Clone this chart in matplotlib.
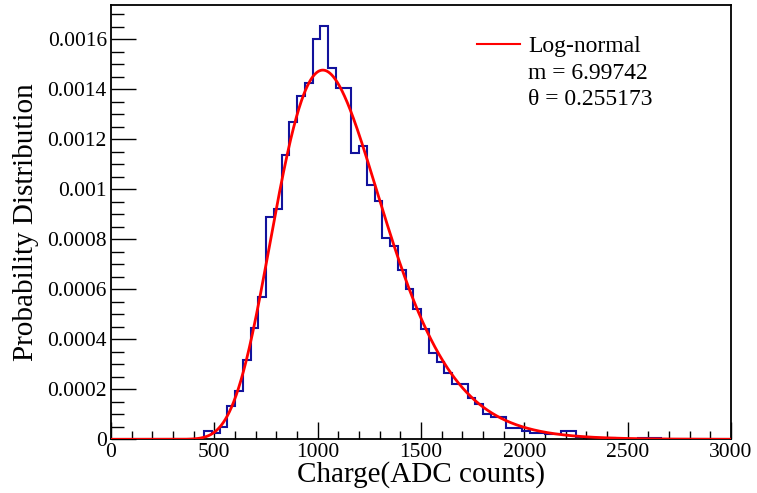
import numpy as np
import matplotlib
matplotlib.use("Agg")
import matplotlib.pyplot as plt
from matplotlib.lines import Line2D
from matplotlib.ticker import MultipleLocator

# histogram: 80 bins of 37.5 ADC counts between 0 and 3000
bin_edges = np.linspace(0, 3000, 81)
prob_density = [
    0, 0, 0, 0, 0, 0, 0, 0, 0, 0, 0, 0,
    0.000033, 0.000025, 0.000050, 0.000135, 0.000195, 0.000317, 0.000444, 0.000568,
    0.000888, 0.000920, 0.001137, 0.001268, 0.001374, 0.001424, 0.001600, 0.001654,
    0.001484, 0.001404, 0.001404, 0.001144, 0.001173, 0.001017, 0.000954, 0.000806,
    0.000772, 0.000677, 0.000601, 0.000520, 0.000440, 0.000344, 0.000310, 0.000264,
    0.000221, 0.000221, 0.000164, 0.000141, 0.000101, 0.000090, 0.000090, 0.000044,
    0.000044, 0.000035, 0.000027, 0.000027, 0.000021, 0.000021, 0.000033, 0.000033,
    0.000008, 0.000004, 0.000004, 0, 0.000004, 0, 0, 0,
    0.000005, 0.000005, 0.000005, 0, 0, 0, 0, 0, 0, 0, 0, 0,
]

# log-normal fit parameters (from the legend)
fit_m = 6.99742
fit_theta = 0.255173
fit_label = "Log-normal"

plt.rcParams["font.family"] = ["Liberation Serif", "DejaVu Serif"]

fig = plt.figure(figsize=(7.57, 4.93), dpi=100)
ax = fig.add_axes([111 / 757, 1 - 439.3 / 493, 620 / 757, 434.3 / 493])

ax.stairs(prob_density, bin_edges, color="#12129c", lw=1.5, zorder=2)

x_fit = np.linspace(1, 3000, 1500)
y_fit = np.exp(-(np.log(x_fit) - fit_m) ** 2 / (2 * fit_theta ** 2)) / (x_fit * fit_theta * np.sqrt(2 * np.pi))
ax.plot(x_fit, y_fit, color="#ff0000", lw=2.0, zorder=3)

ax.set_xlim(0, 3000)
ax.set_ylim(0, 0.001737)

ax.xaxis.set_major_locator(MultipleLocator(500))
ax.xaxis.set_minor_locator(MultipleLocator(100))
ax.yaxis.set_major_locator(MultipleLocator(0.0002))
ax.yaxis.set_minor_locator(MultipleLocator(0.00005))
ax.yaxis.set_major_formatter(lambda v, p: "0" if abs(v) < 1e-12 else ("%.4f" % v).rstrip("0") if round(v * 1e4) % 10 == 0 else "%.4f" % v)

ax.tick_params(axis="both", which="both", direction="in", top=False, right=False,
               labelsize=15.5, colors="black", width=1.0)
ax.tick_params(axis="y", which="major", length=18, pad=3)
ax.tick_params(axis="y", which="minor", length=9)
ax.tick_params(axis="x", which="major", length=12, pad=3)
ax.tick_params(axis="x", which="minor", length=6)
for s in ax.spines.values():
    s.set_linewidth(1.3)

ax.set_xlabel("Charge(ADC counts)", fontsize=21)
ax.set_ylabel("Probability Distribution", fontsize=21)
ax.xaxis.set_label_coords(0.5, -0.05)
ax.yaxis.set_label_coords(-0.116, 0.5)

handles = [
    Line2D([], [], color="#ff0000", lw=1.5),
    Line2D([], [], color="none"),
    Line2D([], [], color="none"),
]
labels = [fit_label, "m = %g" % fit_m, "\u03b8 = %g" % fit_theta]
ax.legend(handles, labels, loc="upper right", bbox_to_anchor=(0.889, 0.951), frameon=False,
          fontsize=17, handlelength=1.8, handletextpad=0.35, labelspacing=0.2, borderaxespad=0)

fig.savefig("out.png", dpi=100)
